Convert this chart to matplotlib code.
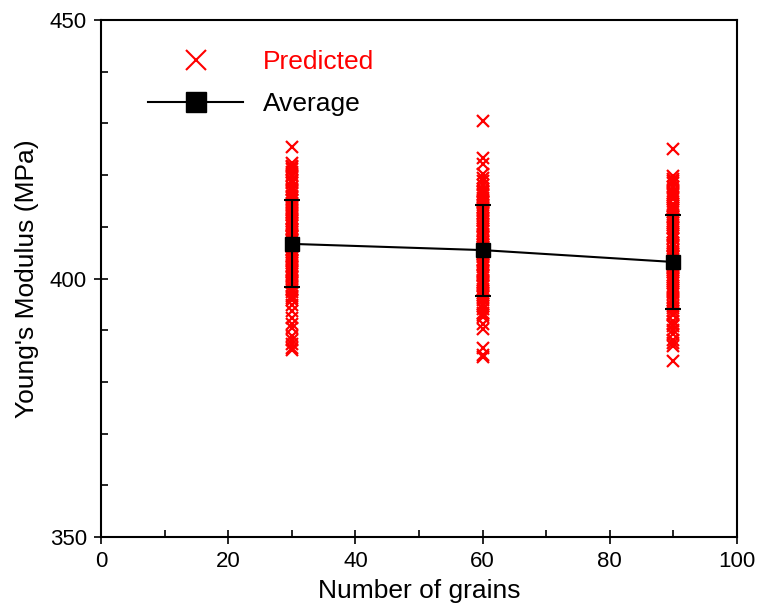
import matplotlib
matplotlib.use("Agg")
import matplotlib.pyplot as plt
from matplotlib.ticker import MultipleLocator
from matplotlib.lines import Line2D

plt.rcParams['font.family'] = ['Liberation Sans', 'DejaVu Sans']

grains = [30, 60, 90]

pred_30 = [425.4, 422.3, 421.8, 421.2, 420.6, 419.9, 419.0, 418.4, 417.7, 417.1,
           416.5, 415.8, 415.2, 414.6, 414.0, 413.5, 412.9, 412.3, 411.8, 411.2,
           410.7, 410.1, 409.6, 409.0, 408.5, 408.0, 407.4, 406.9, 406.3, 405.8,
           405.2, 404.7, 404.1, 403.6, 403.0, 402.5, 401.9, 401.3, 400.8, 400.2,
           399.6, 399.1, 398.5, 398.0, 397.4, 396.6, 395.8, 394.9, 393.7, 391.2,
           390.4, 388.9, 388.1, 387.4, 386.6, 386.1, 409.3, 407.7, 406.1, 404.4,
           411.5, 413.2, 402.2, 400.5, 416.0, 418.9, 421.5, 399.3, 397.8, 405.5,
           420.1, 417.4, 414.3, 412.6, 410.4, 408.2, 403.3, 401.6, 396.2, 392.4]
pred_60 = [430.5, 423.4, 422.1, 420.3, 418.8, 418.1, 417.4, 416.8, 416.1, 415.5,
           414.8, 414.2, 413.6, 413.0, 412.4, 411.8, 411.1, 410.5, 409.9, 409.2,
           408.6, 408.0, 407.3, 406.7, 406.1, 405.5, 404.8, 404.2, 403.6, 402.9,
           402.3, 401.7, 401.0, 400.4, 399.8, 399.1, 398.5, 397.9, 397.2, 396.5,
           395.8, 395.0, 394.2, 393.4, 392.5, 391.3, 390.2, 386.6, 385.3, 384.8,
           410.2, 408.3, 406.4, 404.5, 402.6, 400.7, 412.7, 415.0, 417.0, 398.8,
           396.9, 403.3, 407.0, 411.4, 419.4, 416.4, 413.9, 409.5, 405.8, 401.4,
           399.4, 397.6, 394.6, 393.0]
pred_90 = [425.1, 419.8, 419.2, 418.5, 417.8, 417.0, 416.2, 415.3, 414.5, 413.6,
           412.8, 411.9, 411.1, 410.4, 409.7, 409.0, 408.3, 407.6, 406.9, 406.2,
           405.5, 404.8, 404.1, 403.4, 402.7, 402.0, 401.3, 400.6, 399.9, 399.2,
           398.5, 397.8, 397.1, 396.3, 395.5, 394.7, 393.8, 392.9, 391.7, 390.9,
           390.1, 389.2, 388.2, 387.5, 386.9, 384.0, 406.5, 404.4, 402.3, 400.2,
           398.1, 408.7, 410.8, 412.0, 395.9, 393.2, 414.0, 416.6, 401.6, 405.1,
           418.9, 415.8, 413.2, 411.5, 407.9, 403.8, 399.5, 397.4, 394.3, 391.3]

avg_values = [406.7, 405.5, 403.2]
std_values = [8.4, 8.8, 9.1]

fig = plt.figure(figsize=(7.57, 6.09), dpi=100)
ax = fig.add_axes([0.1334, 0.1182, 0.8402, 0.8489])

for g, vals in zip(grains, [pred_30, pred_60, pred_90]):
    ax.plot([g] * len(vals), vals, linestyle='none', marker='x', color='red',
            markersize=8, markeredgewidth=1.6)

ax.errorbar(grains, avg_values, yerr=std_values, color='black', marker='s',
            markersize=9.5, linewidth=1.5, capsize=6, capthick=1.5,
            elinewidth=1.5, zorder=5)

ax.set_xlim(0, 100)
ax.set_ylim(350, 450)
ax.xaxis.set_major_locator(MultipleLocator(20))
ax.xaxis.set_minor_locator(MultipleLocator(10))
ax.yaxis.set_major_locator(MultipleLocator(50))
ax.yaxis.set_minor_locator(MultipleLocator(10))
ax.tick_params(which='major', direction='inout', length=10, width=1.2,
               labelsize=16, pad=5)
ax.tick_params(which='minor', direction='in', length=5, width=1.2)
ax.tick_params(axis='both', which='both', top=False, right=False)
for s in ax.spines.values():
    s.set_linewidth(1.5)

ax.set_xlabel('Number of grains', fontsize=19, labelpad=5)
ax.set_ylabel("Young's Modulus (MPa)", fontsize=19, labelpad=8)

handles = [
    Line2D([], [], linestyle='none', marker='x', color='red', markersize=14,
           markeredgewidth=1.5),
    Line2D([], [], color='black', marker='s', markersize=15, linewidth=1.5),
]
leg = ax.legend(handles, ['Predicted', 'Average'], loc='upper left',
                bbox_to_anchor=(0.074, 0.942), frameon=False,
                fontsize=19, handlelength=3.6, handletextpad=0.75,
                labelspacing=0.68, borderpad=0, borderaxespad=0)
leg.get_texts()[0].set_color('red')

fig.savefig('out.png', dpi=100)
